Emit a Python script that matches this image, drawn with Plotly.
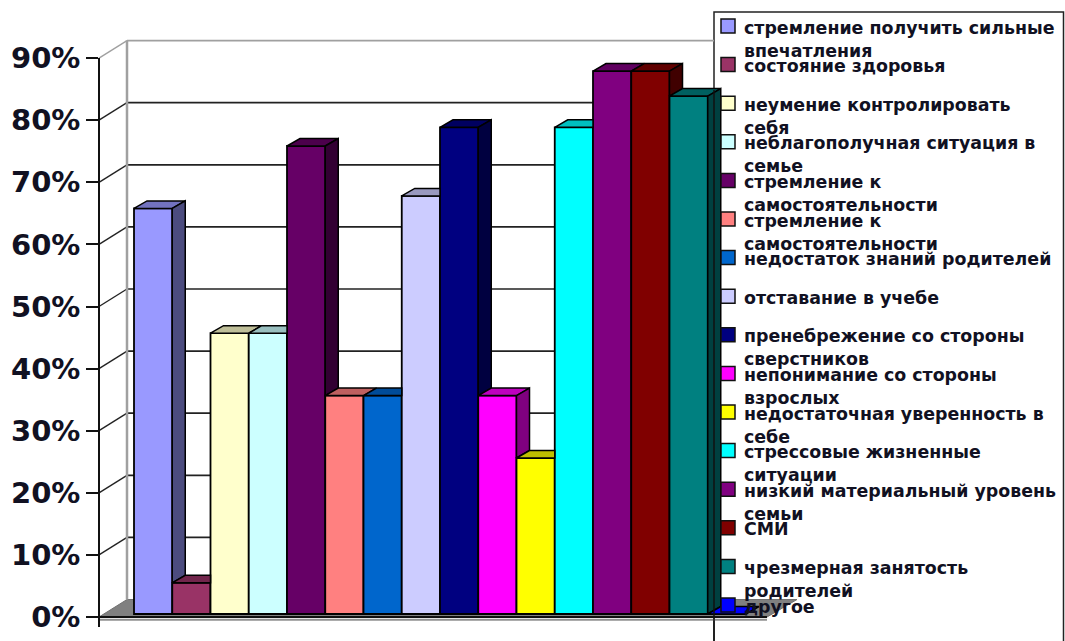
import plotly.graph_objects as go

categories = ["стремление получить сильные впечатления", "состояние здоровья",
              "неумение контролировать себя", "неблагополучная ситуация в семье",
              "стремление к самостоятельности", "стремление к самостоятельности",
              "недостаток знаний родителей", "отставание в учебе",
              "пренебрежение со стороны сверстников", "непонимание со стороны взрослых",
              "недостаточная уверенность в себе", "стрессовые жизненные ситуации",
              "низкий материальный уровень семьи", "СМИ",
              "чрезмерная занятость родителей", "другое"]
legend_labels = ["стремление получить сильные<br>впечатления", "состояние здоровья",
                 "неумение контролировать<br>себя", "неблагополучная ситуация в<br>семье",
                 "стремление к<br>самостоятельности", "стремление к<br>самостоятельности",
                 "недостаток знаний родителей", "отставание в учебе",
                 "пренебрежение со стороны<br>сверстников", "непонимание со стороны<br>взрослых",
                 "недостаточная уверенность в<br>себе", "стрессовые жизненные<br>ситуации",
                 "низкий материальный уровень<br>семьи", "СМИ",
                 "чрезмерная занятость<br>родителей", "другое"]
values = [65, 5, 45, 45, 75, 35, 35, 67, 78, 35, 25, 78, 87, 87, 83, 0]
colors = ["#9999FF", "#993366", "#FFFFCC", "#CCFFFF", "#660066", "#FF8080", "#0066CC", "#CCCCFF",
          "#000080", "#FF00FF", "#FFFF00", "#00FFFF", "#800080", "#800000", "#008080", "#0000FF"]
tick_values = [0, 10, 20, 30, 40, 50, 60, 70, 80, 90]

W, H = 1065, 641
FONT = "DejaVu Sans"
INK = "#111122"

# pixel geometry of the 3D projection
bar_left, bar_w = 134.0, 38.25
axis_left, axis_right = 99.0, 767.0
axis_top, axis_bottom = 58.0, 627.0
zero_front, unit_front = 617.0, 6.21   # front plane: y pixel of 0 %, px per 1 %
zero_bars, unit_bars = 614.0, 6.24     # plane of the bar fronts
depth_dx, depth_dy = 13.0, 7.5         # bar depth
wall_dx, wall_dy = 28.0, 17.5          # wall depth
wall_right = 714.0

px = lambda p: p / W
py = lambda p: 1 - p / H
x_range = [(axis_left - bar_left) / bar_w, (axis_right - bar_left) / bar_w]
y_range = [(zero_front - axis_bottom) / unit_front, (zero_front - axis_top) / unit_front]
y2_range = [(zero_bars - axis_bottom) / unit_bars, (zero_bars - axis_top) / unit_bars]
ddx, ddy = depth_dx / bar_w, depth_dy / unit_bars


def tick_py(t, lift=0.0):
    """paper y of a percent value on the front plane, lifted towards the wall"""
    return py(zero_front - t * unit_front - lift)


def darker(hex_color, f):
    r, g, b = (int(hex_color[i:i + 2], 16) for i in (1, 3, 5))
    return f"rgb({int(r * f)},{int(g * f)},{int(b * f)})"


def face(xs, ys, fill):
    return go.Scatter(x=xs, y=ys, yaxis="y2", mode="lines", fill="toself", fillcolor=fill,
                      line=dict(color="#000000", width=1.5), hoverinfo="skip",
                      showlegend=False, cliponaxis=False)


def pline(x0, y0, x1, y1, color, width):
    return dict(type="line", xref="paper", yref="paper", layer="below",
                x0=px(x0), x1=px(x1), y0=y0, y1=y1, line=dict(color=color, width=width))


traces = []
for i, (name, v, c) in enumerate(zip(categories, values, colors)):
    traces.append(go.Bar(x=[i + 0.5], y=[v], width=[1], name=name, yaxis="y2",
                         marker=dict(color=c, line=dict(color="#000000", width=1.8)),
                         showlegend=False, cliponaxis=False))
for i, (v, c) in enumerate(zip(values, colors)):
    nxt = values[i + 1] if i + 1 < len(values) else 0
    # top face (cut where the next, taller bar hides it)
    if nxt > v:
        traces.append(face([i, i + 1, i + 1, i + ddx, i], [v, v, v + ddy, v + ddy, v], darker(c, 0.75)))
    else:
        traces.append(face([i, i + 1, i + 1 + ddx, i + ddx, i], [v, v, v + ddy, v + ddy, v],
                           c if v == 0 else darker(c, 0.75)))
    # side face (only what stands above the next bar)
    if v > nxt:
        r = i + 1
        traces.append(face([r, r, r + ddx, r + ddx, r], [nxt, v, v + ddy, nxt + ddy, nxt], darker(c, 0.5)))

shapes = []
# legend box sits under the bars
shapes.append(dict(type="rect", xref="paper", yref="paper", layer="below",
                   x0=px(714), x1=px(1063.5), y0=py(700), y1=py(12),
                   fillcolor="#FFFFFF", line=dict(color="#222222", width=1.5)))
# floor
floor = (f"M {px(axis_left)} {tick_py(0)} L {px(axis_left + wall_dx)} {tick_py(0, wall_dy)} "
         f"L {px(axis_right + wall_dx + 2)} {tick_py(0, wall_dy)} L {px(axis_right)} {tick_py(0)} Z")
shapes.append(dict(type="path", xref="paper", yref="paper", layer="below", path=floor,
                   fillcolor="#808080", line=dict(color="#707070", width=1)))
# back wall, gridlines and their connectors
for t in tick_values[1:]:
    col = "#A0A0A0" if t == tick_values[-1] else "#222222"
    shapes.append(pline(axis_left + wall_dx, tick_py(t, wall_dy), wall_right, tick_py(t, wall_dy), col, 1.7))
    shapes.append(pline(axis_left, tick_py(t), axis_left + wall_dx, tick_py(t, wall_dy), col, 1.4))
shapes.append(pline(axis_left + wall_dx, tick_py(0, wall_dy), axis_left + wall_dx,
                    tick_py(tick_values[-1], wall_dy), "#A0A0A0", 2.5))
# gray shadow under the baseline (on the main axes, which also keeps the % axis alive)
shapes.append(dict(type="line", xref="x", yref="y", layer="below",
                   x0=x_range[0], x1=x_range[1], y0=-0.45, y1=-0.45,
                   line=dict(color="#909090", width=2)))

# legend keys and texts
annotations = []
for i, (lab, c) in enumerate(zip(legend_labels, colors)):
    cy = 26 + 38.6 * i
    shapes.append(dict(type="rect", xref="paper", yref="paper", layer="above",
                       x0=px(721), x1=px(735), y0=py(cy + 7), y1=py(cy - 7),
                       fillcolor=c, line=dict(color="#111111", width=1.5)))
    annotations.append(dict(text=lab, xref="paper", yref="paper", showarrow=False,
                            x=px(743), y=py(cy - 9.5), xanchor="left", yanchor="top", align="left",
                            borderpad=0, font=dict(family=FONT, size=17.4, color=INK, weight="bold")))
shapes.append(dict(type="line", xref="paper", yref="paper", layer="above",
                   x0=px(714), x1=px(714), y0=py(90), y1=py(641),
                   line=dict(color="#111111", width=1.5)))

fig = go.Figure(traces)
fig.update_layout(
    template="none",
    width=W, height=H, margin=dict(l=0, r=0, t=0, b=0, pad=0, autoexpand=False),
    paper_bgcolor="#FFFFFF", plot_bgcolor="rgba(0,0,0,0)", showlegend=False,
    barmode="overlay", shapes=shapes, annotations=annotations,
    xaxis=dict(domain=[px(axis_left), px(axis_right)], range=x_range, anchor="free", automargin=False,
               position=1 - zero_front / H, showticklabels=False, ticks="", showgrid=False,
               zeroline=False, showline=True, linecolor="#111111", linewidth=1.5),
    yaxis=dict(domain=[py(axis_bottom), py(axis_top)], range=y_range, anchor="free", automargin=False,
               position=px(axis_left), tickvals=tick_values, ticktext=[f"{t}%" for t in tick_values],
               ticks="outside", ticklen=12, tickwidth=1.5, tickcolor="#111111",
               showline=True, linecolor="#111111", linewidth=1.5, showgrid=False, zeroline=False,
               tickfont=dict(family=FONT, size=29, color=INK, weight="bold")),
    yaxis2=dict(domain=[py(axis_bottom), py(axis_top)], range=y2_range, overlaying="y", automargin=False,
                anchor="x", visible=False, showgrid=False, zeroline=False),
)
fig.write_html("out.html", config=dict(displayModeBar=False),
               post_script="document.body.style.margin='0';")
